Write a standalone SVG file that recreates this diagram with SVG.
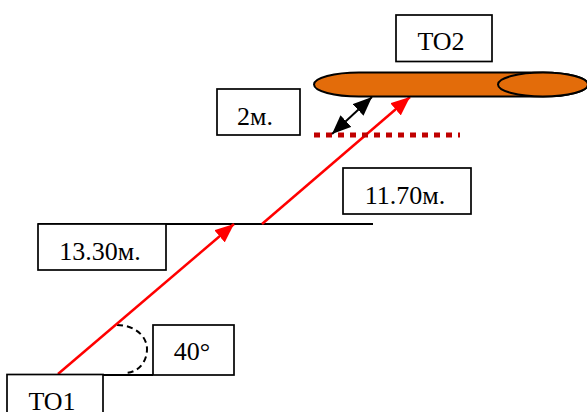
<svg xmlns="http://www.w3.org/2000/svg" width="587" height="412" viewBox="0 0 587 412">
<defs>
<marker id="red" markerUnits="userSpaceOnUse" markerWidth="20" markerHeight="16" refX="19" refY="8" orient="auto"><path d="M0 0L19 8L0 16Z" fill="#ff0000"/></marker>
<marker id="blackEnd" markerUnits="userSpaceOnUse" markerWidth="20" markerHeight="16" refX="19" refY="8" orient="auto"><path d="M0 0L19 8L0 16Z" fill="#000"/></marker>
<marker id="blackStart" markerUnits="userSpaceOnUse" markerWidth="20" markerHeight="16" refX="1" refY="8" orient="auto"><path d="M20 0L1 8L20 16Z" fill="#000"/></marker>
</defs>
<style>
.box{fill:#fff;stroke:#000;stroke-width:1.7}
.t{font-family:"Liberation Serif","Times New Roman",serif;font-size:26px;fill:#000;text-anchor:middle}
.k{fill:none;stroke:#000;stroke-width:2}
.r{fill:none;stroke:#ff0000;stroke-width:2.500}
</style>
<rect width="587" height="412" fill="#fff"/>
<g id="connectors">
<path class="k" d="M38 224H373"/>
<path class="k" d="M103 375H153"/>
<path class="k" stroke-dasharray="6 4" d="M117 325C133 325 147 335 147 349C147 363 137 373 125 373"/>
<path class="r" marker-end="url(#red)" d="M58 374L234 224"/>
<path class="r" marker-end="url(#red)" d="M262 224L410 97"/>
<path d="M314 135H460" fill="none" stroke="#c00000" stroke-width="5" stroke-dasharray="6 6"/>
<path class="k" marker-start="url(#blackStart)" marker-end="url(#blackEnd)" d="M332 134L372 97"/>
</g>
<g id="cylinder">
<path d="M359 72.500H543A45 12 0 0 1 543 96.500H359A45 12 0 0 1 359 72.500Z" fill="#e36c0a" stroke="#000" stroke-width="2"/>
<ellipse cx="543" cy="84.500" rx="45" ry="12" fill="#e36c0a" stroke="#000" stroke-width="2"/>
</g>
<g id="to2"><rect class="box" x="396" y="15" width="96" height="46.500"/><text class="t" x="441" y="50">TO2</text></g>
<g id="d2"><rect class="box" x="217" y="89" width="83" height="46"/><text class="t" x="255" y="125">2м.</text></g>
<g id="d1170"><rect class="box" x="343" y="168" width="128" height="46"/><text class="t" x="405" y="204">11.70м.</text></g>
<g id="d1330"><rect class="box" x="38" y="224" width="128" height="46"/><text class="t" x="100" y="260">13.30м.</text></g>
<g id="angle"><rect class="box" x="153" y="325" width="81" height="50"/><text class="t" x="192" y="360">40°</text></g>
<g id="to1"><rect class="box" x="7" y="374.500" width="96" height="46"/><text class="t" x="52" y="410">TO1</text></g>
</svg>
